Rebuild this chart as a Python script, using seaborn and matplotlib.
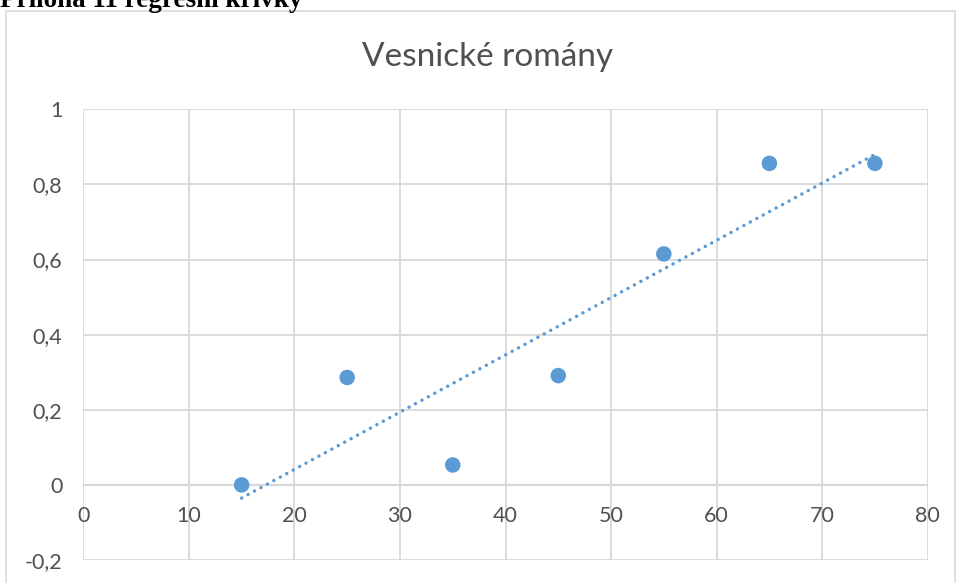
import matplotlib
matplotlib.use("Agg")
import matplotlib.pyplot as plt
from matplotlib.patches import Rectangle
import seaborn as sns
import pandas as pd

# Data: share of village novels by age group
ages = [15, 25, 35, 45, 55, 65, 75]
share = [0.0, 0.286, 0.053, 0.291, 0.615, 0.856, 0.856]

x_ticks = [0, 10, 20, 30, 40, 50, 60, 70, 80]
y_ticks = [-0.2, 0, 0.2, 0.4, 0.6, 0.8, 1.0]
y_tick_labels = ["-0,2", "0", "0,2", "0,4", "0,6", "0,8", "1"]

page_heading = "Příloha 11 regresní křivky"
chart_title = "Vesnické romány"

df = pd.DataFrame({"age": ages, "share": share})

sns.set_theme(style="white")
plt.rcParams["font.family"] = ["Lato", "DejaVu Sans"]

point_color = "#5b9bd5"
text_color = "#505050"
grid_color = "#d9d9d9"

fig = plt.figure(figsize=(9.56, 5.83), dpi=100)

# chart frame
fig.patches.append(Rectangle((6 / 956, -0.05), 949 / 956, 1 - 11 / 583 + 0.05,
                             transform=fig.transFigure, fill=False,
                             edgecolor=grid_color, linewidth=1.2))

fig.text(0.0, 1 - 7 / 583, page_heading, ha="left", va="baseline",
         fontsize=19.5, fontweight="bold", family=["Liberation Serif"], color="black")
fig.text(488 / 956, 1 - 57 / 583, chart_title, ha="center", va="center",
         fontsize=24, color=text_color)

ax = fig.add_axes([83.3 / 956, 1 - 560 / 583, (927.7 - 83.3) / 956, (560 - 109.3) / 583])

ax.set_xlim(0, 80)
ax.set_ylim(-0.2, 1.0)
ax.set_xticks(x_ticks)
ax.set_xticklabels([str(t) for t in x_ticks])
ax.set_yticks(y_ticks)
ax.set_yticklabels(y_tick_labels)

ax.grid(True, color=grid_color, linewidth=1.3)
ax.set_axisbelow(True)
for s in ax.spines.values():
    s.set_visible(False)
ax.axhline(0, color="#c9c9c9", linewidth=1.5, zorder=0.5)

ax.tick_params(axis="both", length=0, labelsize=15.5, labelcolor=text_color)
ax.tick_params(axis="x", pad=15)
ax.tick_params(axis="y", pad=15)
ax.spines["bottom"].set_position(("data", 0))

# linear trend
sns.regplot(data=df, x="age", y="share", ax=ax, scatter=False, ci=None,
            truncate=True, color=point_color,
            line_kws=dict(linewidth=2.5, linestyle=(0, (0.01, 2.1)),
                          dash_capstyle="round", zorder=2))

sns.scatterplot(data=df, x="age", y="share", ax=ax, color=point_color,
                s=125, edgecolor="none", zorder=3)

ax.set_xlabel("")
ax.set_ylabel("")

fig.savefig("out.png", dpi=100)
